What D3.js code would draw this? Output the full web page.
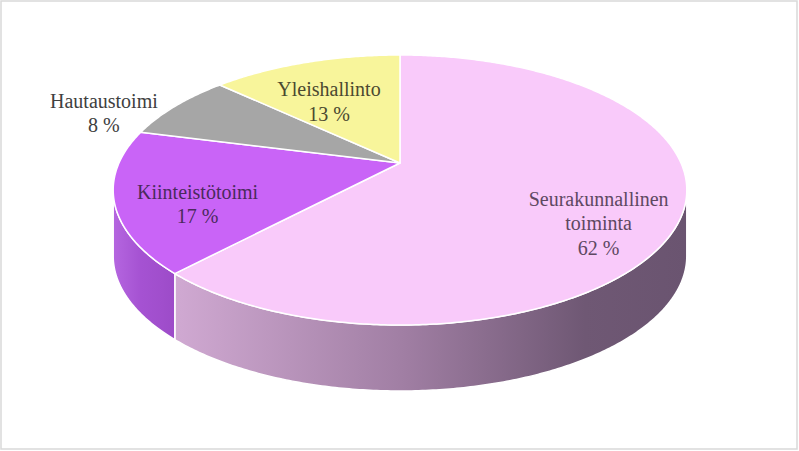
<!DOCTYPE html>
<html><head><meta charset="utf-8">
<script src="https://cdn.jsdelivr.net/npm/d3@7"></script>
<style>html,body{margin:0;padding:0;background:#fff;}svg{display:block;}</style>
</head><body>
<svg id="chart" width="799" height="451"></svg>
<script>
// ---- data ----
const categories = ["Seurakunnallinen toiminta", "Kiinteistötoimi", "Hautaustoimi", "Yleishallinto"];
const categoryLines = [["Seurakunnallinen", "toiminta"], ["Kiinteistötoimi"], ["Hautaustoimi"], ["Yleishallinto"]];
const values = [62, 17, 8, 13];
const topColors = ["#F9CAFA", "#C964F7", "#A6A6A6", "#F8F59B"];
const sideStops = [["#D0A9D2", "#A07EA3", "#6F5874", "#6A5470"], ["#B566E0", "#A552D2", "#A04ECC", "#9C4BC8"], ["#8A8A8A","#8A8A8A","#8A8A8A","#8A8A8A"], ["#D0CD7E","#D0CD7E","#D0CD7E","#D0CD7E"]];
const textColors = ["#5E4862", "#4A2A5C", "#404040", "#4B4930"];

// ---- layout ----
const W = 799, H = 451;
const cx = 400, cy = 163, A = 281, B = 129.6, P = 0.2, D = 66;
const svg = d3.select("#chart");

svg.append("rect").attr("x", 1).attr("y", 1).attr("width", W - 3).attr("height", H - 3)
  .attr("fill", "#fff").attr("stroke", "#D9D9D9").attr("stroke-width", 1.5);

const xS = d3.scaleLinear().domain([-1, 1]).range([cx - A, cx + A]);
const yS = d3.scaleLinear().domain([-1, 1]).range([cy + B, cy - B]);

function proj(theta, r) {
  const u = r * Math.sin(theta), v = r * Math.cos(theta);
  const w = 1 + P * v;
  return [xS(u / w), yS(v / w)];
}

const pie = d3.pie().sort(null).value(d => d)(values);
const total = d3.sum(values);

const visL = Math.acos(-P), visR = 2 * Math.PI - Math.acos(-P);

const defs = svg.append("defs");

function sample(a0, a1) {
  const n = Math.max(2, Math.ceil((a1 - a0) / 0.01));
  return d3.range(n + 1).map(i => a0 + (a1 - a0) * i / n);
}

// sides
pie.forEach((s, i) => {
  const a0 = Math.max(s.startAngle, visL), a1 = Math.min(s.endAngle, visR);
  if (a1 <= a0) return;
  const ts = sample(a0, a1);
  const topPts = ts.map(t => proj(t, 1));
  const botPts = ts.slice().reverse().map(t => { const p = proj(t, 1); return [p[0], p[1] + D]; });
  const xs = topPts.map(p => p[0]);
  const gid = "side" + i;
  const g = defs.append("linearGradient").attr("id", gid).attr("gradientUnits", "userSpaceOnUse")
    .attr("x1", d3.min(xs)).attr("x2", d3.max(xs)).attr("y1", 0).attr("y2", 0);
  const offs = [0, 0.45, 0.8, 1];
  sideStops[i].forEach((c, k) => g.append("stop").attr("offset", offs[k]).attr("stop-color", c));
  svg.append("path")
    .attr("d", d3.line()(topPts.concat(botPts)) + "Z")
    .attr("fill", "url(#" + gid + ")")
    .attr("stroke", "#fff").attr("stroke-width", 1.5).attr("stroke-linejoin", "round");
});

// tops
pie.forEach((s, i) => {
  const pts = [[cx, cy]].concat(sample(s.startAngle, s.endAngle).map(t => proj(t, 1)));
  svg.append("path")
    .attr("d", d3.line()(pts) + "Z")
    .attr("fill", topColors[i])
    .attr("stroke", "#fff").attr("stroke-width", 1.5).attr("stroke-linejoin", "round");
});

// labels
const fmt = v => Math.round(v / total * 100) + " %";
pie.forEach((s, i) => {
  const mid = (s.startAngle + s.endAngle) / 2;
  const outside = values[i] / total < 0.1;
  const p = proj(mid, outside ? 1.36 : 0.72);
  const lines = categoryLines[i].concat([fmt(values[i])]);
  const lh = 24.5;
  const shift = outside ? 25 : (values[i] / total > 0.5 ? 24 : 14);
  const y0 = p[1] + shift - (lines.length - 1) * lh / 2;
  const t = svg.append("text")
    .attr("text-anchor", "middle")
    .attr("font-family", "Liberation Serif")
    .attr("font-size", 20)
    .attr("fill", textColors[i]);
  lines.forEach((l, k) => t.append("tspan").attr("x", p[0]).attr("y", y0 + k * lh).attr("dy", "0.35em").text(l));
});
</script>
</body></html>
